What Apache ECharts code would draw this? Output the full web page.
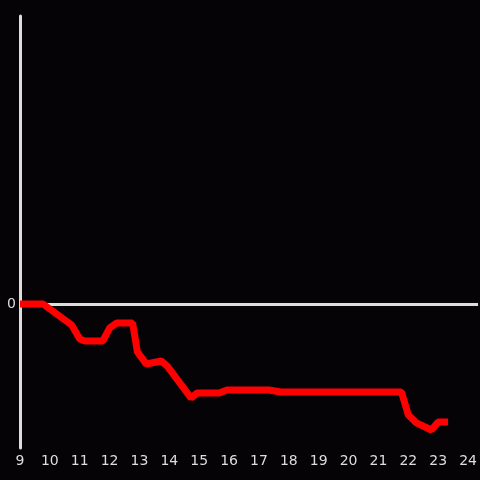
<!DOCTYPE html>
<html>
<head>
<meta charset="utf-8">
<script src="https://cdn.jsdelivr.net/npm/echarts@6/dist/echarts.min.js"></script>
<style>
  html, body { margin: 0; padding: 0; background: #050306; }
  #chart { width: 480px; height: 480px; }
</style>
</head>
<body>
<div id="chart"></div>
<script>
// hour of day -> value
const hours = [9, 9.77, 10.73, 11.0, 11.17, 11.77, 12.0, 12.23, 12.77, 12.93, 13.23, 13.73, 13.93,
  14.73, 14.93, 15.67, 15.93, 17.33, 17.73, 21.77, 22.0, 22.27, 22.77, 23.0, 23.33];
const values = [0, 0, -0.146, -0.243, -0.257, -0.257, -0.167, -0.132, -0.132, -0.333, -0.417, -0.396, -0.431,
  -0.653, -0.618, -0.618, -0.597, -0.597, -0.611, -0.611, -0.771, -0.826, -0.875, -0.819, -0.819];
const xTicks = [9, 10, 11, 12, 13, 14, 15, 16, 17, 18, 19, 20, 21, 22, 23, 24];

const chart = echarts.init(document.getElementById('chart'));
chart.setOption({
  backgroundColor: '#050306',
  animation: false,
  grid: { left: 20, right: 0, top: 16, bottom: 32 },
  xAxis: {
    type: 'value',
    min: 9,
    max: 9 + 460 / 30,
    interval: 1,
    axisLine: { show: false },
    axisTick: { show: false },
    splitLine: { show: false },
    axisLabel: {
      color: '#dddddd',
      fontSize: 14,
      fontFamily: 'DejaVu Sans',
      margin: 6,
      showMaxLabel: false,
      formatter: v => xTicks.includes(v) ? String(v) : ''
    }
  },
  yAxis: {
    type: 'value',
    min: -1,
    max: 2,
    interval: 1,
    axisLine: { show: true, onZero: false, lineStyle: { color: '#dddddd', width: 3 } },
    axisTick: { show: false },
    splitLine: { show: false },
    axisLabel: {
      color: '#dddddd',
      fontSize: 14,
      fontFamily: 'DejaVu Sans',
      margin: 4,
      formatter: v => v === 0 ? '0' : ''
    }
  },
  series: [{
    type: 'line',
    data: hours.map((h, i) => [h, values[i]]),
    showSymbol: false,
    lineStyle: { color: '#ff0000', width: 7 },
    z: 3,
    markLine: {
      silent: true,
      symbol: 'none',
      label: { show: false },
      lineStyle: { color: '#dddddd', width: 3, type: 'solid' },
      data: [{ yAxis: 0 }],
      z: 2
    }
  }]
});
</script>
</body>
</html>
